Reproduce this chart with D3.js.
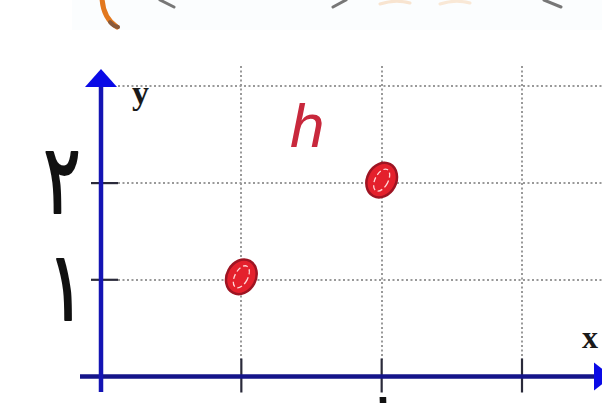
<!DOCTYPE html>
<html>
<head>
<meta charset="utf-8">
<script src="https://cdn.jsdelivr.net/npm/d3@7"></script>
<style>
  html, body { margin: 0; padding: 0; background: #fff; }
  svg { display: block; }
</style>
</head>
<body>
<svg id="chart" width="602" height="403"></svg>
<script>
// Points of the relation h
const pointX = [1, 2];
const pointY = [1, 2];

// Tick values and labels
const xTicks = [1, 2, 3];
const yTicks = [1, 2];
const gridX = [1, 2, 3];
const gridY = [1, 2, 3];
const yTickLabels = ["١", "٢"];
const xTickLabels = ["", "١", ""];

const svg = d3.select("#chart");

const x = d3.scaleLinear().domain([0, 3]).range([101, 522]);
const y = d3.scaleLinear().domain([0, 3]).range([376.5, 86.4]);

// faint band of the cropped drawing along the top edge
svg.append("rect").attr("x", 72).attr("y", 0).attr("width", 530).attr("height", 30)
  .attr("fill", "#fbfdfe");

const deco = svg.append("g").attr("fill", "none").attr("stroke-linecap", "round");
deco.append("path").attr("d", "M102,-2 Q103,18 117,27")
  .attr("stroke", "#e2781e").attr("stroke-width", 5);
deco.append("path").attr("d", "M110,22 Q113,26 118,27")
  .attr("stroke", "#8a5a3a").attr("stroke-width", 4);
deco.append("path").attr("d", "M160,0 L174,7").attr("stroke", "#777").attr("stroke-width", 3);
deco.append("path").attr("d", "M333,7 L346,0").attr("stroke", "#777").attr("stroke-width", 3);
deco.append("path").attr("d", "M544,0 L561,7").attr("stroke", "#777").attr("stroke-width", 3);
deco.append("path").attr("d", "M380,4 Q395,-1 410,3").attr("stroke", "#f8e4d0").attr("stroke-width", 3);
deco.append("path").attr("d", "M440,4 Q455,-1 470,3").attr("stroke", "#f9e8d6").attr("stroke-width", 3);

// dotted grid
const grid = svg.append("g").attr("stroke", "#999").attr("stroke-width", 2)
  .attr("stroke-dasharray", "2,2.5");
grid.selectAll("line.h").data(gridY).join("line").attr("class", "h")
  .attr("x1", 118).attr("x2", 602)
  .attr("y1", d => Math.round(y(d))).attr("y2", d => Math.round(y(d)));
grid.selectAll("line.v").data(gridX).join("line").attr("class", "v")
  .attr("x1", d => Math.round(x(d))).attr("x2", d => Math.round(x(d)))
  .attr("y1", 66).attr("y2", 360);

// tick marks
const ticks = svg.append("g").attr("stroke", "#2a2a3a").attr("stroke-width", 2.2);
ticks.selectAll("line.yt").data(yTicks).join("line").attr("class", "yt")
  .attr("x1", x(0) - 10).attr("x2", x(0) + 17)
  .attr("y1", d => y(d)).attr("y2", d => y(d));
ticks.selectAll("line.xt").data(xTicks).join("line").attr("class", "xt")
  .attr("x1", d => x(d)).attr("x2", d => x(d))
  .attr("y1", y(0) - 18).attr("y2", y(0) + 16);

// axes with arrowheads
svg.append("line").attr("x1", 80).attr("x2", 596).attr("y1", y(0)).attr("y2", y(0))
  .attr("stroke", "#14148a").attr("stroke-width", 4.5);
svg.append("line").attr("x1", x(0)).attr("x2", x(0)).attr("y1", 392).attr("y2", 84)
  .attr("stroke", "#1414b4").attr("stroke-width", 4.5);
svg.append("path")
  .attr("d", `M${x(0)},69 L${x(0) + 16},87 L${x(0) - 16},87 Z`)
  .attr("fill", "#0a0ae6");
svg.append("path")
  .attr("d", `M612,${y(0)} L594,${y(0) - 14} L594,${y(0) + 14} Z`)
  .attr("fill", "#0a0ae6");

// axis names
svg.append("text").attr("x", 132).attr("y", 104).text("y")
  .attr("font-family", "Liberation Serif").attr("font-weight", "bold")
  .attr("font-size", 34).attr("fill", "#1a1a1a");
svg.append("text").attr("x", 582).attr("y", 348).text("x")
  .attr("font-family", "Liberation Serif").attr("font-weight", "bold")
  .attr("font-size", 32).attr("fill", "#1a1a1a");

// y tick labels (Arabic-Indic digits), narrowed and thickened like handwriting
svg.selectAll("text.yl").data(yTicks).join("text").attr("class", "yl")
  .attr("transform", d => `translate(${d === 2 ? 62 : 66},${y(d) + (d === 2 ? 30 : 40)}) scale(0.72,1)`)
  .attr("text-anchor", "middle")
  .attr("font-family", "DejaVu Sans")
  .attr("font-size", 96).attr("fill", "#111")
  .attr("stroke", "#111").attr("stroke-width", 2.2).attr("stroke-linejoin", "round")
  .text((d, i) => yTickLabels[i]);

// x tick labels, mostly below the visible area
svg.selectAll("text.xl").data(xTicks).join("text").attr("class", "xl")
  .attr("transform", d => `translate(${x(d) - 8},458) skewX(-14) scale(0.72,1)`)
  .attr("text-anchor", "middle")
  .attr("font-family", "DejaVu Sans")
  .attr("font-size", 96).attr("fill", "#111")
  .text((d, i) => xTickLabels[i]);

// name of the relation
svg.append("text").attr("x", 290).attr("y", 147).text("h")
  .attr("font-family", "Liberation Sans").attr("font-style", "italic")
  .attr("font-size", 62).attr("fill", "#c8283c");

// points as hand-drawn-looking red ovals
const pts = pointX.map((v, i) => ({ x: v, y: pointY[i] }));
const marks = svg.selectAll("g.pt").data(pts).join("g").attr("class", "pt")
  .attr("transform", d => `translate(${x(d.x)},${y(d.y) - 3}) rotate(28)`);
marks.append("ellipse").attr("rx", 14.5).attr("ry", 18)
  .attr("fill", "#e4202c").attr("stroke", "#9e1422").attr("stroke-width", 2.5);
marks.append("ellipse").attr("rx", 6.5).attr("ry", 12)
  .attr("fill", "none").attr("stroke", "#ffd8d8").attr("stroke-width", 1.3)
  .attr("stroke-dasharray", "5,3");
</script>
</body>
</html>
